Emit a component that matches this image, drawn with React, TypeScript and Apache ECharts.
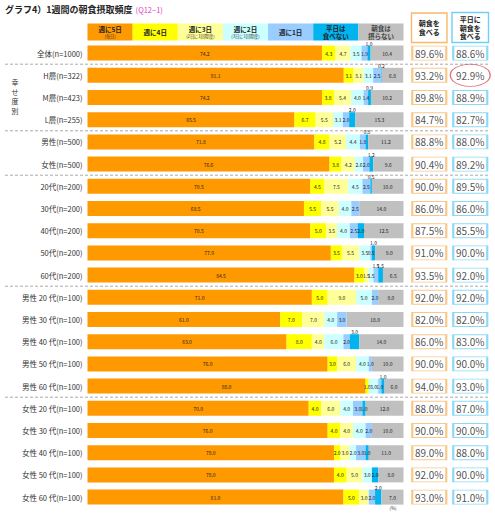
import React, { useEffect, useRef } from "react";
import * as echarts from "echarts";

const categories = [
  "全体(n=1000)",
  "H層(n=322)",
  "M層(n=423)",
  "L層(n=255)",
  "男性(n=500)",
  "女性(n=500)",
  "20代(n=200)",
  "30代(n=200)",
  "40代(n=200)",
  "50代(n=200)",
  "60代(n=200)",
  "男性 20 代(n=100)",
  "男性 30 代(n=100)",
  "男性 40 代(n=100)",
  "男性 50 代(n=100)",
  "男性 60 代(n=100)",
  "女性 20 代(n=100)",
  "女性 30 代(n=100)",
  "女性 40 代(n=100)",
  "女性 50 代(n=100)",
  "女性 60 代(n=100)",
];

const seriesNames = ["週に5日(毎日)", "週に4日", "週に3日(2日に1回程度)", "週に2日(3日に1回程度)", "週に1日", "平日は食べない", "朝食は摂らない"];

const days5 = [74.2, 81.1, 74.2, 65.5, 71.8, 76.6, 70.5, 68.5, 70.5, 77.0, 84.5, 71.0, 61.0, 63.0, 76.0, 88.0, 70.0, 76.0, 78.0, 78.0, 81.0];
const days4 = [4.3, 3.1, 3.8, 6.7, 4.8, 3.8, 4.5, 5.5, 5.0, 3.5, 3.0, 5.0, 7.0, 8.0, 3.0, 1.0, 4.0, 4.0, 2.0, 4.0, 5.0];
const days3 = [4.7, 3.1, 5.4, 5.5, 5.2, 4.2, 7.5, 5.5, 3.5, 5.5, 1.5, 9.0, 7.0, 4.0, 6.0, 0, 6.0, 4.0, 3.0, 5.0, 3.0];
const days2 = [3.5, 3.1, 4.0, 3.1, 4.4, 2.6, 4.5, 4.0, 4.0, 3.5, 1.5, 5.0, 4.0, 6.0, 4.0, 3.0, 4.0, 4.0, 2.0, 3.0, 0];
const days1 = [1.9, 2.5, 1.4, 2.0, 1.8, 2.0, 2.5, 2.5, 2.5, 0.5, 1.5, 2.0, 3.0, 2.0, 1.0, 1.0, 3.0, 2.0, 3.0, 0, 2.0];
const weekdaySkip = [1.0, 0.2, 0.9, 2.0, 0.8, 1.2, 0.5, 0, 2.0, 1.0, 1.5, 0, 0, 3.0, 0, 1.0, 1.0, 0, 1.0, 2.0, 2.0];
const never = [10.4, 6.8, 10.2, 15.3, 11.2, 9.6, 10.0, 14.0, 12.5, 9.0, 6.5, 8.0, 18.0, 14.0, 10.0, 6.0, 12.0, 10.0, 11.0, 8.0, 7.0];

const eatRate = [89.6, 93.2, 89.8, 84.7, 88.8, 90.4, 90.0, 86.0, 87.5, 91.0, 93.5, 92.0, 82.0, 86.0, 90.0, 94.0, 88.0, 90.0, 89.0, 92.0, 93.0];
const weekdayRate = [88.6, 92.9, 88.9, 82.7, 88.0, 89.2, 89.5, 86.0, 85.5, 90.0, 92.0, 92.0, 82.0, 83.0, 90.0, 93.0, 87.0, 90.0, 88.0, 90.0, 91.0];

// rows where the 平日は食べない label sits inside the bar
const weekdayInsideRows = ["40代(n=200)", "女性 20 代(n=100)", "女性 40 代(n=100)", "女性 50 代(n=100)"];
// rows where the 週に1日 label sits above the bar
const oneDayAboveRows = ["60代(n=200)"];
const highlightedRow = "H層(n=322)";
// groups separated by dashed lines: after these rows
const groupEnds = ["全体(n=1000)", "L層(n=255)", "女性(n=500)", "60代(n=200)", "男性 60 代(n=100)"];
const groupTitle = ["幸", "せ", "度", "別"];

const legendLines = [
  ["週に5日", "(毎日)"],
  ["週に4日", ""],
  ["週に3日", "(2日に1回程度)"],
  ["週に2日", "(3日に1回程度)"],
  ["週に1日", ""],
  ["平日は", "食べない"],
  ["朝食は", "摂らない"],
];

const colors = ["#ff9900", "#ffff00", "#ffff99", "#ccffff", "#99ccff", "#00b4f0", "#c0c0c0"];
const FONT = "'Noto Sans CJK JP', 'Noto Sans', sans-serif";

const W = 495;
const H = 515;
const GRID_TOP = 42;
const GRID_BOTTOM = 6.8;
const BAR_LEFT = 87.5;
const BAR_RIGHT = 403.5;

export default function App() {
  const ref = useRef<HTMLDivElement>(null);

  useEffect(() => {
    if (!ref.current) return;
    const chart = echarts.init(ref.current, null, { renderer: "svg" });
    const band = (H - GRID_TOP - GRID_BOTTOM) / categories.length;
    const seriesData = [days5, days4, days3, days2, days1, weekdaySkip, never];

    const barSeries = seriesData.map((arr, si) => ({
      name: seriesNames[si],
      type: "bar",
      stack: "total",
      xAxisIndex: 0,
      yAxisIndex: 0,
      barWidth: 15,
      itemStyle: { color: colors[si] },
      label: {
        show: true,
        position: "inside",
        fontSize: 5,
        fontFamily: FONT,
        color: "#222",
        formatter: (p: any) => (p.value > 0 ? Number(p.value).toFixed(1) : ""),
      },
      data: arr.map((v, i) => {
        const above =
          (si === 5 && !weekdayInsideRows.includes(categories[i])) ||
          (si === 4 && oneDayAboveRows.includes(categories[i]));
        if (above) {
          return { value: v, label: { position: "top", distance: 0 } };
        }
        return v;
      }),
    }));

    const catAxis = (gi: number, show: boolean) => ({
      type: "category",
      gridIndex: gi,
      inverse: true,
      data: categories,
      axisLine: { show: false },
      axisTick: { show: false },
      axisLabel: {
        show,
        fontSize: 7.5,
        fontFamily: FONT,
        color: "#333",
        margin: 5,
      },
    });
    const valAxis = (gi: number, max: number) => ({
      type: "value",
      gridIndex: gi,
      min: 0,
      max,
      show: false,
    });

    const boxSeries = (gi: number, vals: number[], border: string, hideHighlight: boolean) => ({
      type: "scatter",
      xAxisIndex: gi,
      yAxisIndex: gi,
      symbol: "rect",
      symbolSize: [34, 14],
      z: 3,
      itemStyle: { color: "#fff", borderColor: border, borderWidth: 1.4 },
      label: {
        show: true,
        position: "inside",
        fontSize: 10,
        fontFamily: FONT,
        color: "#222",
        formatter: (p: any) => Number(p.value[2]).toFixed(1) + "%",
      },
      data: vals.map((v, i) => {
        if (hideHighlight && categories[i] === highlightedRow) {
          return { value: [0.5, i, v], itemStyle: { borderColor: "rgba(0,0,0,0)" } };
        }
        return [0.5, i, v];
      }),
    });

    const graphics: any[] = [];
    // title
    graphics.push({
      type: "text",
      left: 5,
      top: 5,
      style: {
        text: "{t|グラフ4）1週間の朝食摂取頻度}{q|(Q12−1)}",
        rich: {
          t: { fontSize: 9, fontWeight: "bold", fontFamily: FONT, fill: "#222" },
          q: { fontSize: 7.5, fontFamily: FONT, fill: "#e040c0", padding: [0, 0, 0, 3] },
        },
      },
    });
    // legend boxes
    const lw = (BAR_RIGHT - BAR_LEFT) / legendLines.length;
    legendLines.forEach((ln, i) => {
      const x = BAR_LEFT + i * lw;
      graphics.push({
        type: "rect",
        shape: { x, y: 23.5, width: lw, height: 17 },
        style: { fill: colors[i] },
      });
      const twoBig = i >= 5;
      const text = ln[1]
        ? twoBig
          ? `{a|${ln[0]}}\n{a|${ln[1]}}`
          : `{a|${ln[0]}}\n{b|${ln[1]}}`
        : `{a|${ln[0]}}`;
      graphics.push({
        type: "text",
        x: x + lw / 2,
        y: 32,
        style: {
          text,
          align: "center",
          verticalAlign: "middle",
          rich: {
            a: { fontSize: 6.5, fontWeight: "bold", fontFamily: FONT, fill: i === 6 ? "#444" : "#222", lineHeight: 8.5, align: "center" },
            b: { fontSize: 4.2, fontFamily: FONT, fill: "#333", lineHeight: 6, align: "center" },
          },
        },
      });
    });
    // right header boxes
    graphics.push({
      type: "rect",
      shape: { x: 411.5, y: 13, width: 35.5, height: 29.5 },
      style: { fill: "#fff", stroke: "#f8b96a", lineWidth: 1.4 },
    });
    graphics.push({
      type: "text",
      x: 429.25,
      y: 27.75,
      style: {
        text: "{a|朝食を}\n{a|食べる}",
        align: "center",
        verticalAlign: "middle",
        rich: { a: { fontSize: 7, lineHeight: 9, fontWeight: "bold", fontFamily: FONT, fill: "#222", align: "center" } },
      },
    });
    graphics.push({
      type: "rect",
      shape: { x: 452, y: 12.5, width: 36.5, height: 30 },
      style: { fill: "#fff", stroke: "#6fd0f5", lineWidth: 1.4 },
    });
    graphics.push({
      type: "text",
      x: 470.25,
      y: 27.5,
      style: {
        text: "{a|平日に}\n{a|朝食を}\n{a|食べる}",
        align: "center",
        verticalAlign: "middle",
        rich: { a: { fontSize: 7, lineHeight: 8.5, fontWeight: "bold", fontFamily: FONT, fill: "#222", align: "center" } },
      },
    });
    // dashed separators
    groupEnds.forEach((name) => {
      const idx = categories.indexOf(name);
      const y = GRID_TOP + (idx + 1) * band;
      graphics.push({
        type: "line",
        shape: { x1: 5, y1: y, x2: 490, y2: y },
        style: { stroke: "#aaa", lineWidth: 1, lineDash: [3, 2] },
      });
    });
    // vertical group label
    groupTitle.forEach((ch, k) => {
      graphics.push({
        type: "text",
        x: 15,
        y: 82 + k * 9.5,
        style: {
          text: ch,
          align: "center",
          verticalAlign: "middle",
          fontSize: 7,
          fontFamily: FONT,
          fill: "#333",
        },
      });
    });
    graphics.push({
      type: "text",
      x: 393,
      y: 508,
      style: { text: "(%)", fontSize: 4.5, fontFamily: FONT, fill: "#333", align: "center", verticalAlign: "middle" },
    });

    chart.setOption({
      animation: false,
      backgroundColor: "#fff",
      grid: [
        { left: BAR_LEFT, right: W - BAR_RIGHT, top: GRID_TOP, bottom: GRID_BOTTOM },
        { left: 411.5, width: 35.5, top: GRID_TOP, bottom: GRID_BOTTOM },
        { left: 452, width: 36.5, top: GRID_TOP, bottom: GRID_BOTTOM },
      ],
      xAxis: [valAxis(0, 100), valAxis(1, 1), valAxis(2, 1)],
      yAxis: [catAxis(0, true), catAxis(1, false), catAxis(2, false)],
      series: [
        ...barSeries,
        boxSeries(1, eatRate, "#f8b96a", false),
        boxSeries(2, weekdayRate, "#6fd0f5", true),
        {
          type: "scatter",
          xAxisIndex: 2,
          yAxisIndex: 2,
          symbol: "circle",
          symbolSize: [40, 22],
          z: 4,
          silent: true,
          itemStyle: { color: "rgba(0,0,0,0)", borderColor: "#d94a5a", borderWidth: 1 },
          data: [[0.5, categories.indexOf(highlightedRow)]],
        },
      ],
      graphic: graphics,
    });

    return () => chart.dispose();
  }, []);

  return (
    <div
      ref={ref}
      style={{ position: "absolute", left: 0, top: 0, width: W, height: H, background: "#fff" }}
    />
  );
}
